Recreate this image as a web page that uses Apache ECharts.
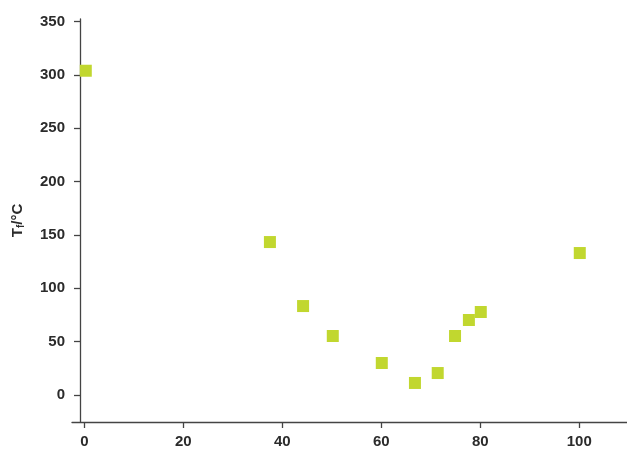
<!DOCTYPE html>
<html>
<head>
<meta charset="utf-8">
<script src="https://cdn.jsdelivr.net/npm/echarts@6/dist/echarts.min.js"></script>
<style>html,body{margin:0;padding:0;background:#fff}#c{width:627px;height:452px}</style>
</head>
<body>
<div id="c"></div>
<script>
const xValues = [0.3, 37.5, 44.2, 50.2, 60.1, 66.8, 71.4, 74.9, 77.7, 80.1, 100.1];
const yValues = [304, 143.4, 83.4, 55.3, 30, 11.3, 20.6, 55.3, 70.3, 77.8, 133.1];
const xTicks = [0, 20, 40, 60, 80, 100];
const yTicks = [0, 50, 100, 150, 200, 250, 300, 350];

const font = "'Liberation Sans Narrow', 'Liberation Sans', Arial, sans-serif";
const txt = '#2b2b2b';
const axisCol = '#444';

const chart = echarts.init(document.getElementById('c'));
chart.setOption({
  animation: false,
  backgroundColor: '#fff',
  grid: { left: 72, right: 0, top: 19, bottom: 30, containLabel: false },
  xAxis: {
    type: 'value',
    min: -2.485, max: 109.64,
    axisLine: { show: true, onZero: false, lineStyle: { color: axisCol, width: 1.3 } },
    axisTick: { show: true, length: 6, customValues: xTicks, lineStyle: { color: axisCol, width: 1.3 } },
    axisLabel: { customValues: xTicks, margin: 12, color: txt, fontFamily: font, fontWeight: 'bold', fontSize: 15 },
    splitLine: { show: false }
  },
  yAxis: {
    type: 'value',
    min: -25.3, max: 352.5,
    offset: -8,
    axisLine: { show: true, onZero: false, lineStyle: { color: axisCol, width: 1.3 } },
    axisTick: { show: true, length: 6, customValues: yTicks, lineStyle: { color: axisCol, width: 1.3 } },
    axisLabel: { customValues: yTicks, margin: 15, color: txt, fontFamily: font, fontWeight: 'bold', fontSize: 15 },
    splitLine: { show: false },
    name: '{a|T}{b|f}{a|/°C}',
    nameLocation: 'middle',
    nameGap: 54,
    nameTextStyle: {
      rich: {
        a: { color: txt, fontFamily: font, fontWeight: 'bold', fontSize: 15 },
        b: { color: txt, fontFamily: font, fontWeight: 'bold', fontSize: 10, verticalAlign: 'bottom', padding: [6, 0, 0, 0] }
      }
    }
  },
  series: [{
    type: 'scatter',
    symbol: 'rect',
    symbolSize: 12,
    itemStyle: { color: '#c1d72f', opacity: 1 },
    data: xValues.map((x, i) => [x, yValues[i]])
  }]
});
</script>
</body>
</html>
